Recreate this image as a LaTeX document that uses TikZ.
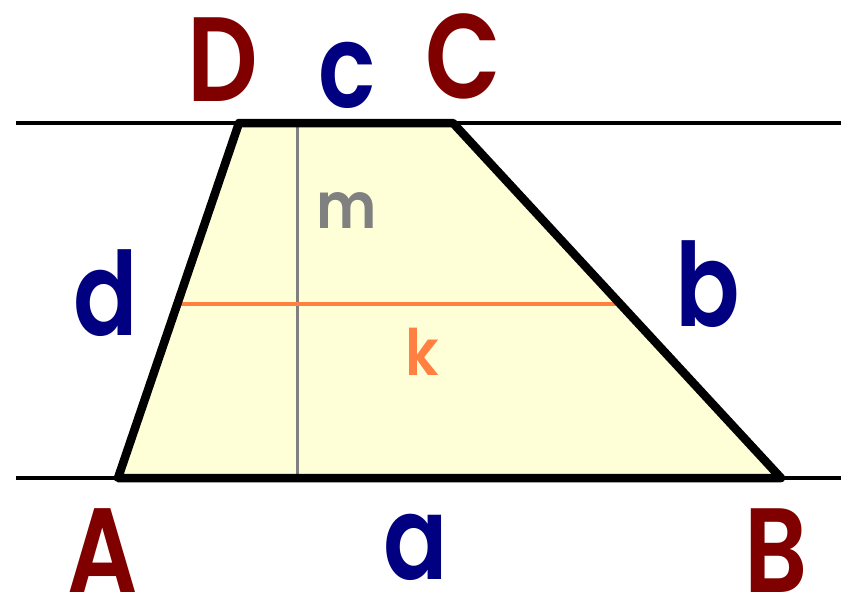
\documentclass[tikz,border=0pt]{standalone}
\usepackage{fontspec}
\setmainfont{Poppins}[BoldFont={* SemiBold}]
\usetikzlibrary{calc}
\definecolor{ptred}{RGB}{128,0,0}
\definecolor{sidblue}{RGB}{0,0,128}
\definecolor{fillyel}{RGB}{255,255,215}
\definecolor{korange}{RGB}{255,128,64}
\definecolor{mgray}{RGB}{128,128,128}
\tikzset{
  vertexlbl/.style={text=ptred,font=\fontsize{120}{120}\selectfont\bfseries,inner sep=0pt,xscale=0.82,transform shape},
  sidelbl/.style={text=sidblue,font=\fontsize{116}{116}\selectfont\bfseries,inner sep=0pt,xscale=0.82,transform shape},
  smalllbl/.style={font=\fontsize{64}{64}\selectfont\bfseries,inner sep=0pt,xscale=0.9,transform shape},
  guide/.style={line width=4pt,black},
  edge/.style={line width=8.5pt,black,line join=round,line cap=round}
}
\begin{document}
\begin{tikzpicture}[x=1pt,y=-1pt]
\useasboundingbox (0,0) rectangle (841,603);
\coordinate (A) at (118,478);
\coordinate (B) at (781,478);
\coordinate (C) at (453,123);
\coordinate (D) at (239,123);
\coordinate (T1) at (16,123);
\coordinate (T2) at (841,123);
\coordinate (U1) at (16,478);
\coordinate (U2) at (841,478);
\coordinate (M1) at (297,123);
\coordinate (M2) at (297,478);
\coordinate (K1) at ($(A)!0.49!(D)$);
\coordinate (K2) at ($(B)!0.49!(C)$);
% parallel lines
\draw[guide] (T1) -- (T2);
\draw[guide] (U1) -- (U2);
% fill
\fill[fillyel] (A) -- (B) -- (C) -- (D) -- cycle;
% height and midline
\draw[mgray,line width=3pt] (M1) -- (M2);
\draw[korange,line width=4pt] (K1) -- (K2);
% edges
\draw[edge] (A) -- (B) -- (C) -- (D) -- cycle;
% labels
\node[vertexlbl] (lD) at (223,60) {D};
\node[vertexlbl] (lC) at (463,56) {C};
\node[vertexlbl] (lA) at (103,551) {A};
\node[vertexlbl] (lB) at (776,551) {B};
\node[sidelbl] (lc) at (347,75) {c};
\node[sidelbl] (ld) at (106,293) {d};
\node[sidelbl] (lb) at (708,284) {b};
\node[sidelbl] (la) at (416,547) {a};
\node[smalllbl,text=mgray] (lm) at (347,211) {m};
\node[smalllbl,text=korange] (lk) at (422,352) {k};
\end{tikzpicture}
\end{document}
